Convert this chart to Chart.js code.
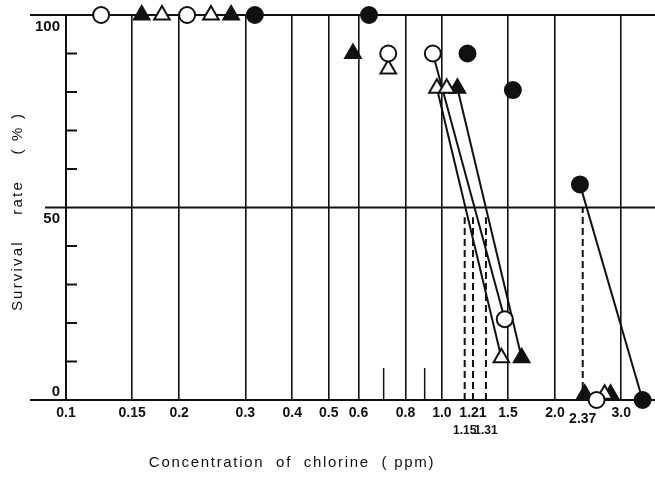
<!DOCTYPE html>
<html>
<head>
<meta charset="utf-8">
<script src="https://cdn.jsdelivr.net/npm/chart.js@4/dist/chart.umd.min.js"></script>
<style>
  html, body { margin: 0; padding: 0; background: #fff; overflow: hidden; }
  canvas { display: block; }
</style>
</head>
<body>
<canvas id="myChart" width="655" height="480"></canvas>
<script>
// survival (%) against chlorine concentration (ppm)
const openCircleX = [0.124, 0.210, 0.72, 0.946, 1.47, 2.58];
const openCircleY = [100, 100, 90, 90, 21, 0];
const openTriX = [0.180, 0.243, 0.72, 0.97, 1.03, 1.44, 2.71];
const openTriY = [100, 100, 86, 81, 81, 11, 1.5];
const filledTriX = [0.159, 0.275, 0.58, 1.10, 1.63, 2.40, 2.81];
const filledTriY = [100, 100, 90, 81, 11, 1.5, 1.5];
const filledCircleX = [0.318, 0.640, 1.17, 1.545, 2.33, 3.42];
const filledCircleY = [100, 100, 90, 80.5, 56, 0];

// straight lines drawn across the 50 % level
const fitLines = [
  { x: [0.946, 1.47], y: [90, 21] },
  { x: [0.97, 1.44], y: [81, 11] },
  { x: [1.10, 1.63], y: [81, 11] },
  { x: [2.33, 3.42], y: [56, 0] }
];
// 50 % concentrations (dashed drop lines)
const lc50Values = [1.15, 1.21, 1.31, 2.37];
const lc50Tops = [47.5, 47.5, 47.5, 50];
// short marks on the x axis
const shortMarks = [0.7, 0.9];
const shortMarkHeight = 8.3;

const xTickValues = [0.1, 0.15, 0.2, 0.3, 0.4, 0.5, 0.6, 0.7, 0.8, 0.9, 1.0, 1.15, 1.21, 1.31, 1.5, 2.0, 2.37, 3.0];
const xTickLabels = ['0.1', '0.15', '0.2', '0.3', '0.4', '0.5', '0.6', '', '0.8', '', '1.0', ['', '1.15'], '1.21', ['', '1.31'], '1.5', '2.0', ['', '2.37'], '3.0'];
const xGridValues = [0.15, 0.2, 0.3, 0.4, 0.5, 0.6, 0.8, 1.0, 1.5, 2.0, 3.0];
const yLabelValues = [100, 50, 0];
const yMinorTicks = [10, 20, 30, 40, 60, 70, 80, 90];

const xTitle = 'Concentration  of  chlorine  ( ppm)';
const yTitle = 'Survival    rate    ( % )';

const INK = '#111';
const FONT = '"Liberation Sans", Arial, sans-serif';

function pts(xs, ys) {
  return xs.map((x, i) => ({ x: x, y: ys[i] }));
}

function markers(label, xs, ys, style, filled) {
  return {
    label: label,
    data: pts(xs, ys),
    showLine: false,
    pointStyle: style,
    pointRadius: style === 'triangle' ? 9 : 8,
    pointBackgroundColor: filled ? INK : '#fff',
    pointBorderColor: INK,
    pointBorderWidth: 2,
    clip: false,
    order: 0
  };
}

const datasets = [
  markers('open circle', openCircleX, openCircleY, 'circle', false),
  markers('open triangle', openTriX, openTriY, 'triangle', false),
  markers('filled triangle', filledTriX, filledTriY, 'triangle', true),
  markers('filled circle', filledCircleX, filledCircleY, 'circle', true)
];

fitLines.forEach(f => {
  datasets.push({
    data: pts(f.x, f.y),
    showLine: true,
    borderColor: INK,
    borderWidth: 2,
    pointRadius: 0,
    clip: false,
    order: 1
  });
});

lc50Values.forEach((v, i) => {
  datasets.push({
    data: [{ x: v, y: 0 }, { x: v, y: lc50Tops[i] }],
    showLine: true,
    borderColor: INK,
    borderWidth: 2,
    borderDash: [7, 4],
    pointRadius: 0,
    order: 2
  });
});

shortMarks.forEach(v => {
  datasets.push({
    data: [{ x: v, y: 0 }, { x: v, y: shortMarkHeight }],
    showLine: true,
    borderColor: INK,
    borderWidth: 1.5,
    pointRadius: 0,
    order: 2
  });
});

const frame = {
  id: 'frame',
  beforeDatasetsDraw(chart) {
    const { ctx, chartArea: a, scales: { y } } = chart;
    ctx.save();
    ctx.strokeStyle = INK;
    ctx.lineWidth = 2;
    const line = (x1, y1, x2, y2) => {
      ctx.beginPath(); ctx.moveTo(x1, y1); ctx.lineTo(x2, y2); ctx.stroke();
    };
    line(a.left, a.top, a.left, a.bottom + 1);
    [[100, 36], [50, 21], [0, 36]].forEach(([v, ext]) => {
      const py = y.getPixelForValue(v);
      line(a.left - ext, py, a.right, py);
    });
    yMinorTicks.forEach(v => {
      const py = y.getPixelForValue(v);
      line(a.left, py, a.left + 11, py);
    });
    ctx.fillStyle = INK;
    ctx.font = 'bold 15px ' + FONT;
    ctx.textAlign = 'right';
    ctx.textBaseline = 'middle';
    const dy = { 100: 12, 50: 11, 0: -8 };
    yLabelValues.forEach(v => {
      ctx.fillText(String(v), a.left - 6, y.getPixelForValue(v) + dy[v]);
    });
    ctx.restore();
  },
  afterDraw(chart) {
    const { ctx, chartArea: a } = chart;
    ctx.save();
    ctx.fillStyle = INK;
    ctx.font = '15px ' + FONT;
    ctx.letterSpacing = '1.7px';
    ctx.textAlign = 'center';
    ctx.textBaseline = 'middle';
    ctx.fillText(xTitle, 292, 463);
    ctx.translate(18, (a.top + a.bottom) / 2 + 4);
    ctx.rotate(-Math.PI / 2);
    ctx.letterSpacing = '2.2px';
    ctx.fillText(yTitle, 0, 0);
    ctx.restore();
  }
};

function tickFont(size, lineHeight) {
  return { family: FONT, size: size, weight: 'bold', lineHeight: lineHeight };
}

new Chart('myChart', {
  type: 'scatter',
  data: { datasets: datasets },
  options: {
    responsive: false,
    animation: false,
    layout: { autoPadding: false, padding: { top: 15, right: 0, left: 0, bottom: 0 } },
    plugins: { legend: { display: false }, tooltip: { enabled: false } },
    scales: {
      x: {
        type: 'logarithmic',
        min: 0.1,
        max: 3.69,
        afterBuildTicks: scale => {
          scale.ticks = xTickValues.map(v => ({ value: v }));
        },
        afterFit: scale => {
          scale.height = 80;
          scale.paddingLeft = 0;
          scale.paddingRight = 0;
        },
        border: { display: false },
        grid: {
          drawTicks: false,
          lineWidth: 1.6,
          color: ctx => (ctx.tick && xGridValues.includes(ctx.tick.value)) ? INK : 'rgba(0,0,0,0)'
        },
        ticks: {
          autoSkip: false,
          maxRotation: 0,
          padding: 5,
          color: INK,
          font: ctx => {
            const v = ctx.tick ? ctx.tick.value : 0;
            if (v === 2.37) return tickFont(14, 0.66);
            if (v === 1.15 || v === 1.31) return tickFont(12, 1.45);
            return tickFont(14, 1.2);
          },
          callback: function (value) {
            const i = xTickValues.indexOf(value);
            return i >= 0 ? xTickLabels[i] : '';
          }
        }
      },
      y: {
        min: 0,
        max: 100,
        afterFit: scale => { scale.width = 66; },
        border: { display: false },
        grid: { display: false },
        ticks: { display: false }
      }
    }
  },
  plugins: [frame]
});
</script>
</body>
</html>
